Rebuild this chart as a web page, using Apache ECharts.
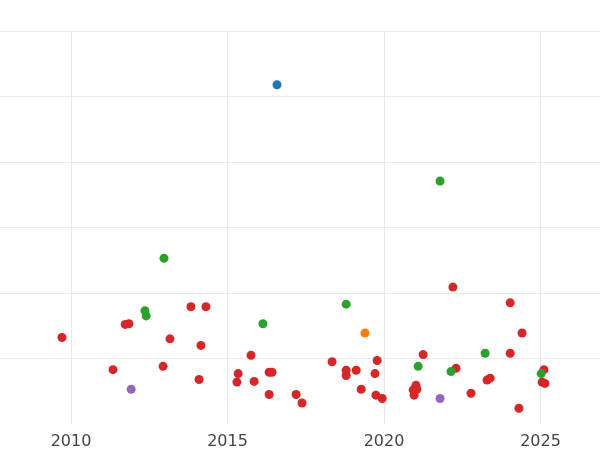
<!DOCTYPE html>
<html>
<head>
<meta charset="utf-8">
<script src="https://cdn.jsdelivr.net/npm/echarts@6/dist/echarts.min.js"></script>
<style>html,body{margin:0;padding:0;background:#fff}#c{width:600px;height:450px}</style>
</head>
<body>
<div id="c"></div>
<script>
// [year, value] per group
var blueData = [[2016.58, 5.18]];
var orangeData = [[2019.39, 1.39]];
var purpleData = [[2011.92, 0.53], [2021.79, 0.39]];
var greenData = [
    [2012.97, 2.53], [2012.36, 1.73], [2012.40, 1.65], [2016.13, 1.53], [2018.79, 1.83],
    [2021.79, 3.71], [2021.09, 0.88], [2022.14, 0.80], [2023.23, 1.08], [2025.02, 0.77]
];
var redData = [
    [2009.71, 1.32], [2011.34, 0.83], [2011.73, 1.52], [2011.85, 1.53], [2012.94, 0.88],
    [2013.16, 1.30], [2013.83, 1.79], [2014.31, 1.79], [2014.09, 0.68], [2014.15, 1.20],
    [2015.34, 0.77], [2015.30, 0.64], [2015.75, 1.05], [2015.85, 0.65], [2016.33, 0.79],
    [2016.42, 0.79], [2016.33, 0.45], [2017.19, 0.45], [2017.38, 0.32], [2018.34, 0.95],
    [2018.79, 0.82], [2018.79, 0.74], [2019.11, 0.82], [2019.27, 0.53], [2019.71, 0.77],
    [2019.78, 0.97], [2019.74, 0.44], [2019.94, 0.39], [2020.93, 0.52], [2021.02, 0.59],
    [2021.05, 0.53], [2020.96, 0.44], [2021.25, 1.06], [2022.20, 2.09], [2022.30, 0.85],
    [2022.78, 0.47], [2023.29, 0.67], [2023.39, 0.70], [2024.03, 1.85], [2024.03, 1.08],
    [2024.41, 1.39], [2024.31, 0.24], [2025.11, 0.83], [2025.05, 0.64], [2025.14, 0.62]
];
var yearTicks = [2010, 2015, 2020, 2025];

var chart = echarts.init(document.getElementById('c'));

function dots(data, color) {
    return {type: 'scatter', data: data, symbolSize: 9, itemStyle: {color: color, opacity: 1}};
}

chart.setOption({
    animation: false,
    grid: {left: 0, right: 0, top: 31, bottom: 23, containLabel: false},
    xAxis: {
        type: 'value', min: 2007.73, max: 2026.9,
        axisLine: {show: false},
        axisTick: {show: false, customValues: yearTicks},
        axisLabel: {color: '#444', fontSize: 16, margin: 10, fontFamily: 'DejaVu Sans',
            customValues: yearTicks, formatter: function (v) { return String(v); }},
        splitLine: {lineStyle: {color: '#e8e8e8'}}
    },
    yAxis: {
        type: 'value', min: 0, max: 6, interval: 1,
        axisLine: {show: false}, axisTick: {show: false}, axisLabel: {show: false},
        splitLine: {showMinLine: false, lineStyle: {color: '#ebebeb'}}
    },
    series: [
        dots(redData, '#d62728'),
        dots(greenData, '#2ca02c'),
        dots(purpleData, '#9467bd'),
        dots(orangeData, '#ff7f0e'),
        dots(blueData, '#1f77b4')
    ]
});
</script>
</body>
</html>
